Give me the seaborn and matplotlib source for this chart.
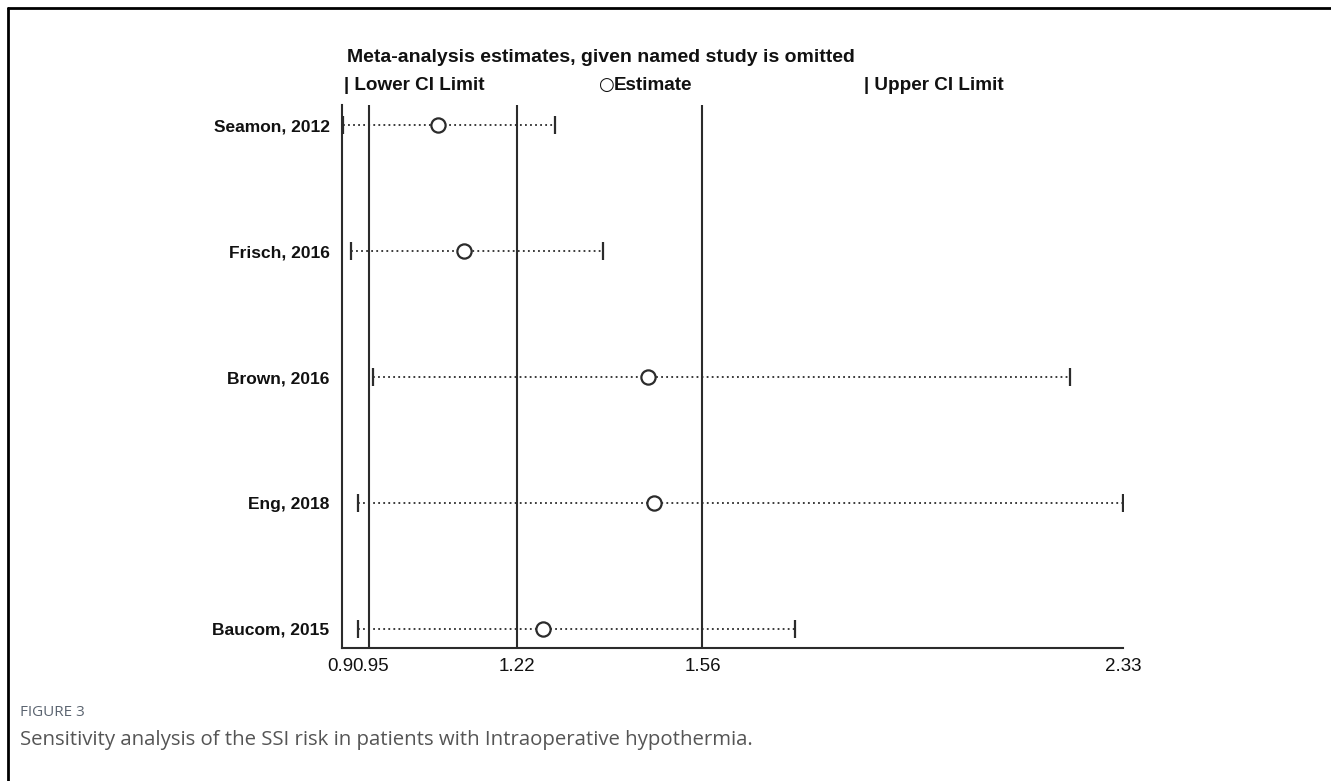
import numpy as np
import pandas as pd
import matplotlib
matplotlib.use("Agg")
import matplotlib.pyplot as plt
from matplotlib.lines import Line2D
from matplotlib.transforms import ScaledTranslation
import seaborn as sns

# Influence analysis: pooled estimate with each study left out in turn
studies = ["Seamon, 2012", "Frisch, 2016", "Brown, 2016", "Eng, 2018", "Baucom, 2015"]
estimate = [1.076, 1.123, 1.460, 1.471, 1.268]
lower_ci = [0.902, 0.916, 0.957, 0.929, 0.929]
upper_ci = [1.290, 1.378, 2.233, 2.330, 1.729]

# Overall pooled result: lower limit, estimate, upper limit
overall = [0.95, 1.22, 1.56]
tick_values = [0.90, 0.95, 1.22, 1.56, 2.33]
tick_labels = ["0.9", "0.95", "1.22", "1.56", "2.33"]

sns.set_theme(style="white")
plt.rcParams["font.family"] = ["Liberation Sans", "DejaVu Sans"]

W, H = 1331, 781
fig = plt.figure(figsize=(W / 100, H / 100), dpi=100)
fig.patch.set_facecolor("white")

def fx(px):
    return px / W

def fy(py):
    return 1 - py / H

# plot area: x 0.90 -> 2.33 spans px 342..1123, rows at px 125..629
ax = fig.add_axes([fx(342), fy(648), fx(1123) - fx(342), fy(105) - fy(648)])
n = len(studies)
df = pd.DataFrame({
    "study": studies,
    "row": np.arange(n)[::-1].astype(float),
    "estimate": estimate,
    "lower": lower_ci,
    "upper": upper_ci,
})

ink = "#2b2b2b"

# overall reference lines
for v in overall:
    ax.axvline(v, color=ink, lw=1.5, zorder=1)

# dotted confidence intervals
ax.hlines(df["row"], df["lower"], df["upper"], colors=ink, linestyles=(0, (1, 1.8)),
          lw=1.3, zorder=2)
# end caps
sns.scatterplot(data=df, x="lower", y="row", marker="|", s=150, color=ink,
                linewidth=1.6, ax=ax, zorder=3, legend=False)
sns.scatterplot(data=df, x="upper", y="row", marker="|", s=150, color=ink,
                linewidth=1.6, ax=ax, zorder=3, legend=False)
# omitted-study estimates
sns.scatterplot(data=df, x="estimate", y="row", marker="o", s=105,
                facecolor="white", edgecolor=ink, linewidth=1.6, ax=ax,
                zorder=4, legend=False)

ax.set_xlim(0.90, 2.33)
ax.set_ylim(-0.151, 4.159)
ax.set_xticks(tick_values)
ax.set_xticklabels(tick_labels, fontsize=13.5, color="#111111")
ax.set_yticks(df["row"])
ax.set_yticklabels(studies, fontsize=12.5, fontweight="bold", color="#111111")
ax.tick_params(axis="x", direction="out", length=4, width=1.3, color=ink, pad=3)
ax.tick_params(axis="y", length=0, pad=9)
ax.set_xlabel("")
ax.set_ylabel("")

# the two leftmost tick labels sit shoulder to shoulder
xlabels = ax.get_xticklabels()
xlabels[0].set_transform(xlabels[0].get_transform()
                         + ScaledTranslation(-2 / 100, 0, fig.dpi_scale_trans))
xlabels[1].set_transform(xlabels[1].get_transform()
                         + ScaledTranslation(1.5 / 100, 0, fig.dpi_scale_trans))

for side in ["top", "right"]:
    ax.spines[side].set_visible(False)
for side in ["left", "bottom"]:
    ax.spines[side].set_color(ink)
    ax.spines[side].set_linewidth(1.5)
ax.set_facecolor("white")
ax.grid(False)

# heading and key
fig.text(fx(347), fy(58), "Meta-analysis estimates, given named study is omitted",
         fontsize=14, fontweight="semibold", color="#111111", va="center", ha="left")
key_font = dict(fontsize=13.6, fontweight="semibold", color="#111111", va="center", ha="left")
fig.text(fx(344), fy(85), "| Lower CI Limit", **key_font)
fig.text(fx(598), fy(85), "○", fontsize=13, color="#111111", va="center", ha="left",
         family=["DejaVu Sans"])
fig.text(fx(614), fy(85), "Estimate", **key_font)
fig.text(fx(864), fy(85), "| Upper CI Limit", **key_font)

# caption
fig.text(fx(20), fy(713), "FIGURE 3", fontsize=11, color="#5b6470", va="center",
         ha="left", family=["Open Sans"])
fig.text(fx(20), fy(740),
         "Sensitivity analysis of the SSI risk in patients with Intraoperative hypothermia.",
         fontsize=14.7, color="#555555", va="center", ha="left", family=["Open Sans"])

# page frame (top and left rules)
fig.add_artist(Line2D([fx(8), 1], [fy(8), fy(8)], color="black", lw=2))
fig.add_artist(Line2D([fx(8), fx(8)], [fy(8), 0], color="black", lw=2))

fig.savefig("out.png", dpi=100, facecolor="white")
